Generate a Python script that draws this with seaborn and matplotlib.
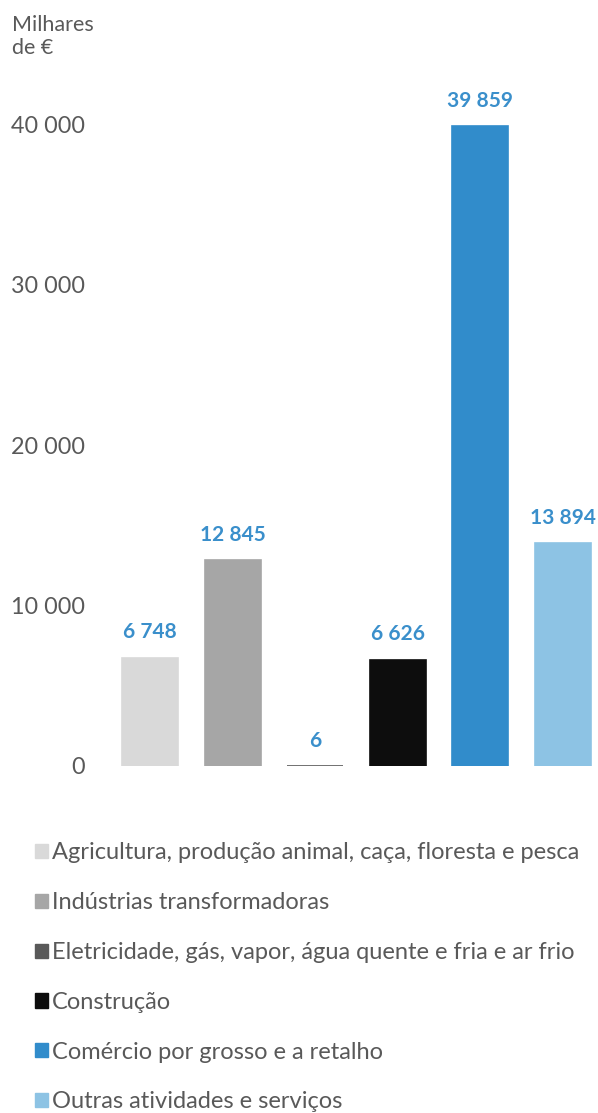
import matplotlib
matplotlib.use("Agg")
import matplotlib.pyplot as plt
import seaborn as sns
import pandas as pd
from matplotlib.patches import Patch

categories = [
    "Agricultura, produção animal, caça, floresta e pesca",
    "Indústrias transformadoras",
    "Eletricidade, gás, vapor, água quente e fria e ar frio",
    "Construção",
    "Comércio por grosso e a retalho",
    "Outras atividades e serviços",
]
values = [6748, 12845, 6, 6626, 39859, 13894]
value_labels = ["6 748", "12 845", "6", "6 626", "39 859", "13 894"]
colors = ["#d9d9d9", "#a6a6a6", "#595959", "#0d0d0d", "#318ccb", "#8dc3e4"]
yticks = [0, 10000, 20000, 30000, 40000]
ytick_labels = ["0", "10 000", "20 000", "30 000", "40 000"]

sns.set_style("white")
plt.rcParams["font.family"] = ["Lato", "DejaVu Sans"]

df = pd.DataFrame({"cat": categories, "val": values})

W, H = 598, 1113
fig = plt.figure(figsize=(W / 100, H / 100), dpi=100)
ax = fig.add_axes([100 / W, 1 - 766 / H, 498 / W, (766 - 92) / H])

sns.barplot(data=df, x="cat", y="val", hue="cat", palette=colors,
            saturation=1, dodge=False, legend=False, width=0.68, ax=ax)
for p, c in zip(ax.patches, colors):
    p.set_edgecolor(c)
    p.set_linewidth(1.2)

ax.set_xlim((100 - 150) / 82.6, (598 - 150) / 82.6)
ax.set_ylim(0, 42000)
ax.set_yticks(yticks)
ax.set_yticklabels(ytick_labels, fontsize=16.8, color="#595959")
ax.set_xticks([])
ax.set_xlabel("")
ax.set_ylabel("")
ax.tick_params(axis="y", length=0, pad=11)
for s in ax.spines.values():
    s.set_visible(False)

for i, (v, lab) in enumerate(zip(values, value_labels)):
    ax.annotate(lab, (i, v), xytext=(0, 11), textcoords="offset points",
                ha="center", va="bottom", fontsize=15, fontweight="bold",
                color="#3a8fcb", annotation_clip=False)

fig.text(12 / W, 1 - 15 / H, "Milhares\nde €", ha="left", va="top",
         fontsize=15.5, color="#595959", linespacing=1.2)

handles = [Patch(facecolor=c, edgecolor=c) for c in colors]
leg = fig.legend(handles, categories, loc="upper left",
                 bbox_to_anchor=(26 / W, 1 - 833 / H), frameon=False,
                 fontsize=17, handlelength=0.55, handleheight=0.55,
                 handletextpad=0.15, labelspacing=1.22, borderaxespad=0)
for t in leg.get_texts():
    t.set_color("#595959")

fig.savefig("out.png", dpi=100)
